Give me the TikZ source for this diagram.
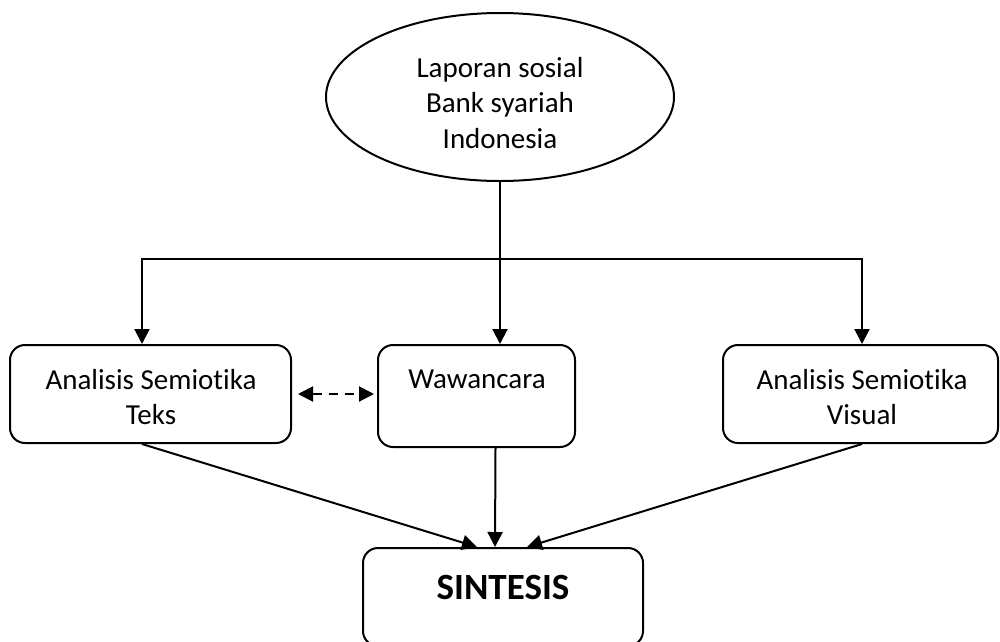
\documentclass[tikz,border=0pt]{standalone}
\usepackage{fontspec}
\setmainfont{Carlito}[Ligatures=NoCommon]
\usetikzlibrary{arrows.meta,shapes.geometric,calc}
\begin{document}
\begin{tikzpicture}[x=1pt,y=-1pt,
  line width=2pt,
  arr/.style={-{Triangle[length=15pt,width=15pt]}},
  darr/.style={{Triangle[length=15pt,width=15pt]}-{Triangle[length=15pt,width=15pt]}, dash pattern=on 9pt off 7pt},
  box/.style={draw, rounded corners=15pt, inner sep=0pt},
  txt/.style={font=\fontsize{29}{35.4}\selectfont, align=center, inner sep=0pt},
]
\useasboundingbox (0,0) rectangle (1000,641);
\clip (0,0) rectangle (1000,641);
\node[draw, ellipse, minimum width=348pt, minimum height=168pt, inner sep=0pt] (ell) at (500,97) {};
\node[box, minimum width=281pt, minimum height=98pt] (b1) at (150.5,394) {};
\node[box, minimum width=197pt, minimum height=102pt] (waw) at (476.5,396) {};
\node[box, minimum width=275pt, minimum height=98pt] (b3) at (860.5,394) {};
\node[box, minimum width=280pt, minimum height=98pt] (sin) at (503,597) {};
\node[txt] (t0) at (500,103) {Laporan sosial\\Bank syariah\\Indonesia};
\node[txt] (t1) at (151,397) {Analisis Semiotika\\Teks};
\node[txt] (t2) at (477,379) {Wawancara};
\node[txt] (t3) at (862,397) {Analisis Semiotika\\Visual};
\node[inner sep=0pt, font=\fontsize{37}{44}\selectfont\bfseries] (t4) at (503,587) {SINTESIS};
\coordinate (jl) at (142,259);
\coordinate (jr) at (862,259);
\draw[arr] (ell.south |- jl) -- (jl) -- (jl |- b1.north);
\draw[arr] (ell.south |- jl) -- (jr) -- (jr |- b3.north);
\draw[arr] (ell.south) -- (ell.south |- waw.north);
\draw[darr, shorten <=6pt, shorten >=3pt] (b1.east) -- (b1.east -| waw.west);
\draw[arr] (b1.south -| jl) -- ($(sin.north)+(-26,0)$);
\draw[arr] ($(waw.south)+(19,0)$) -- ($(sin.north)+(-8,0)$);
\draw[arr] (b3.south -| jr) -- ($(sin.north)+(24,0)$);
\end{tikzpicture}
\end{document}
